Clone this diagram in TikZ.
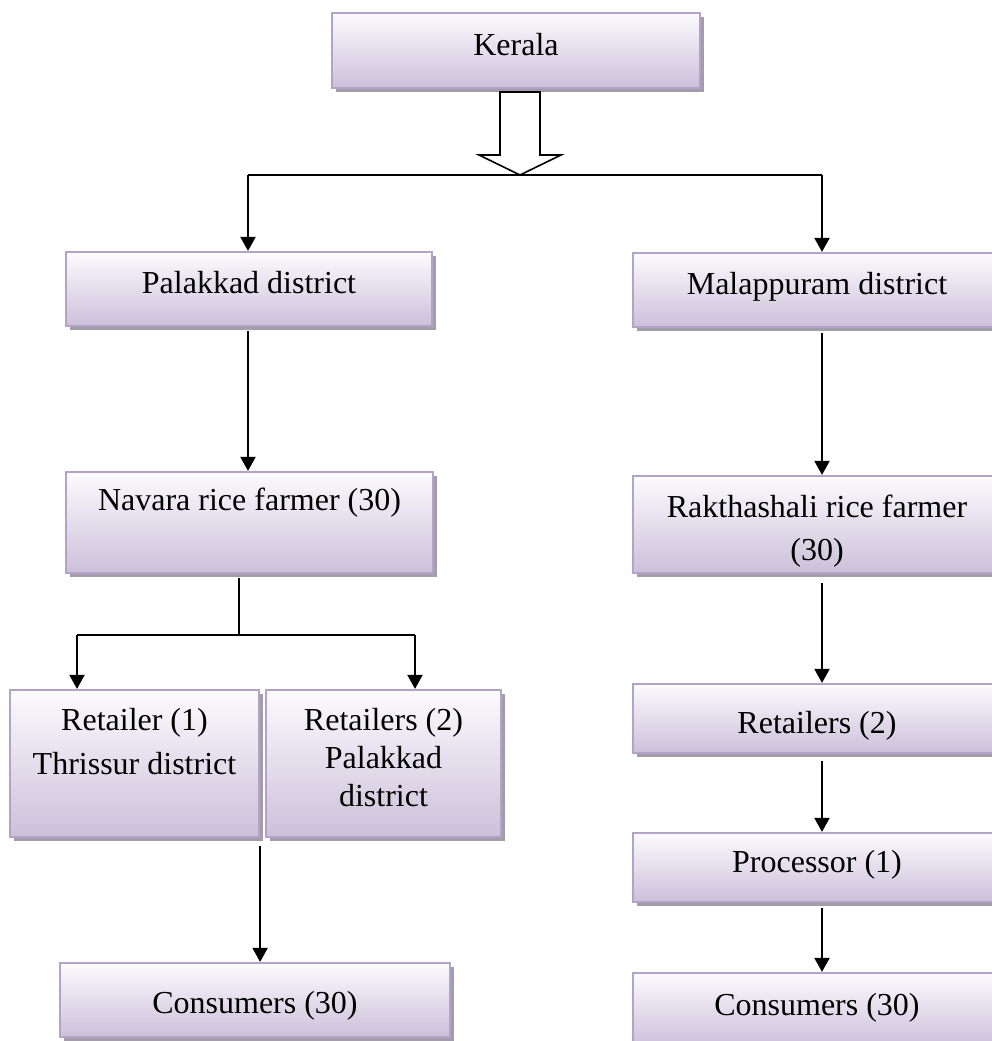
\documentclass[tikz,border=0pt]{standalone}
\usepackage{fontspec}
\setmainfont{Liberation Serif}
\usetikzlibrary{arrows.meta,shadows}

\definecolor{boxtop}{HTML}{FCFBFD}
\definecolor{boxbot}{HTML}{CCC0DA}
\definecolor{boxline}{HTML}{B3A3C8}
\definecolor{boxshadow}{HTML}{A29CAB}

% width, height, offset of first text line below the top, line spacing, text
\newcommand\boxtext[5]{%
  \parbox[c][#2pt][t]{#1pt}{\centering\fontsize{32pt}{#4pt}\selectfont
    \vspace*{\dimexpr #3pt-13.4pt\relax}\rule{0pt}{24pt}#5}}

\tikzset{
  fbox/.style={draw=boxline, line width=2.2pt, top color=boxtop,
    bottom color=boxbot, inner sep=0pt,
    general shadow={fill=boxshadow, shadow xshift=4pt, shadow yshift=-4pt}},
  link/.style={line width=2pt, black},
  arr/.style={link, -{Triangle[width=15pt,length=14pt]}},
  hollow/.style={line width=1.6pt, draw=black, fill=white, line join=miter}
}

\begin{document}
\begin{tikzpicture}[x=1pt, y=-1pt]
\useasboundingbox (0,0) rectangle (992,1041);
\clip (0,0) rectangle (992,1041);

% boxes
\node[fbox] (kerala)   at (516,50.5)    {\boxtext{368}{75}{32}{40}{Kerala}};
\node[fbox] (palakkad) at (249,289)     {\boxtext{366}{74}{31}{40}{Palakkad district}};
\node[fbox] (malap)    at (817,290)     {\boxtext{368}{74}{31}{40}{Malappuram district}};
\node[fbox] (navara)   at (249.5,522.5) {\boxtext{367}{101}{28}{40}{Navara rice farmer (30)}};
\node[fbox] (rakth)    at (817,524.5)   {\boxtext{368}{97}{31}{43}{Rakthashali rice farmer\\(30)}};
\node[fbox] (ret1)     at (134.5,763.5) {\boxtext{249}{147}{30}{44}{Retailer (1)\\Thrissur district}};
\node[fbox] (ret2)     at (383.5,763.5) {\boxtext{235}{147}{30}{38}{Retailers (2)\\Palakkad\\district}};
\node[fbox] (retR)     at (817,718.5)   {\boxtext{368}{69}{39}{40}{Retailers (2)}};
\node[fbox] (proc)     at (817,867.5)   {\boxtext{368}{69}{29}{40}{Processor (1)}};
\node[fbox] (consR)    at (817,1009.5)  {\boxtext{368}{73}{32}{40}{Consumers (30)}};
\node[fbox] (consL)    at (255,1000)    {\boxtext{390}{74}{40}{40}{Consumers (30)}};

% split below Kerala
\coordinate (split)  at (520,175);
\coordinate (lsplit) at (248,175);
\coordinate (rsplit) at (822,175);
\coordinate (colL) at (248,0);
\coordinate (colR) at (822,0);

\draw[hollow] (split) -- ++(-41,-20) -- ++(21,0) -- ++(0,-63) -- ++(40,0)
  -- ++(0,63) -- ++(21,0) -- cycle;
\draw[link] (lsplit) -- (rsplit);
\draw[arr] (lsplit) -- (lsplit |- palakkad.north);
\draw[arr] (rsplit) -- (rsplit |- malap.north);

% Palakkad column
\draw[arr, shorten <=4pt] (palakkad.south -| colL) -- (navara.north -| colL);
\coordinate (navsplit) at (239,635);
\coordinate (bl) at (77,635);
\coordinate (br) at (415,635);
\draw[link, shorten <=4pt] (navara.south -| navsplit) -- (navsplit);
\draw[link] (bl) -- (br);
\draw[arr] (bl) -- (bl |- ret1.north);
\draw[arr] (br) -- (br |- ret2.north);
\draw[arr, shorten <=8pt] (ret1.south east) -- (ret1.east |- consL.north);

% Malappuram column
\draw[arr, shorten <=5pt] (malap.south -| colR) -- (rakth.north -| colR);
\draw[arr, shorten <=9pt] (rakth.south -| colR) -- (retR.north -| colR);
\draw[arr, shorten <=7pt] (retR.south -| colR) -- (proc.north -| colR);
\draw[arr, shorten <=5pt] (proc.south -| colR) -- (consR.north -| colR);
\end{tikzpicture}
\end{document}
